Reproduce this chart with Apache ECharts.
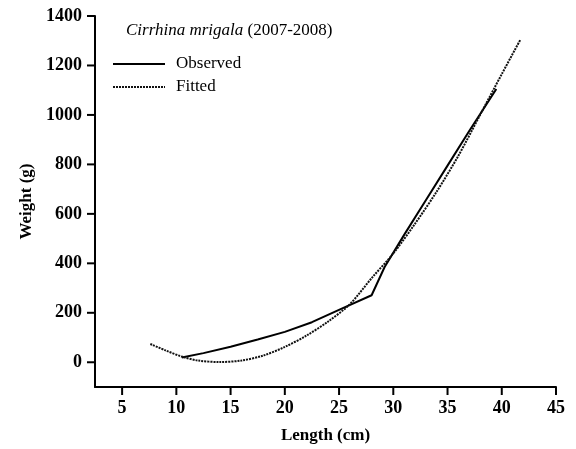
<!DOCTYPE html>
<html>
<head>
<meta charset="utf-8">
<script src="https://cdn.jsdelivr.net/npm/echarts@6/dist/echarts.min.js"></script>
<style>html,body{margin:0;padding:0;background:#fff;}#chart{width:576px;height:449px;}</style>
</head>
<body>
<div id="chart"></div>
<script>
// Data
var observedLength = [10.5, 12.5, 15, 17.5, 20, 22.5, 25.4, 28, 29.2, 31, 33, 35, 37, 39.5];
var observedWeight = [19, 37, 63, 92, 123, 162, 220, 271, 385, 515, 655, 795, 935, 1105];
var fittedLength = [7.6, 9, 10.5, 12, 14, 16, 18, 20, 22, 24, 26, 28, 30, 32, 34, 36, 38, 40, 41.7];
var fittedWeight = [74, 48, 23, 7, 1, 7, 27, 62, 108, 165, 235, 340, 440, 560, 690, 835, 1000, 1165, 1303];
var xTicks = [5, 10, 15, 20, 25, 30, 35, 40, 45];
var yTicks = [0, 200, 400, 600, 800, 1000, 1200, 1400];
var seriesNames = ['Observed', 'Fitted'];

var X_MIN = 2.5, X_MAX = 45, Y_MIN = -100, Y_MAX = 1400;

function pairs(xs, ys) { return xs.map(function (x, i) { return [x, ys[i]]; }); }

var FONT = 'Liberation Serif';
var labelStyle = { fontFamily: FONT, fontSize: 18, fontWeight: 'bold', color: '#000' };

var legendGraphics = [
  { id: 'title', type: 'text', left: 126, top: 22, style: {
      text: '{i|Cirrhina mrigala} (2007-2008)', fontFamily: FONT, fontSize: 17, fill: '#000',
      rich: { i: { fontFamily: FONT, fontSize: 17, fontStyle: 'italic', fill: '#000' } } } },
  { id: 'l1', type: 'line', shape: { x1: 113, y1: 64, x2: 165, y2: 64 }, style: { stroke: '#000', lineWidth: 2 } },
  { id: 't1', type: 'text', left: 176, top: 55, style: { text: seriesNames[0], fontFamily: FONT, fontSize: 17, fill: '#000' } },
  { id: 'l2', type: 'line', shape: { x1: 113, y1: 87, x2: 165, y2: 87 }, style: { stroke: '#111', lineWidth: 2, lineDash: [2, 1] } },
  { id: 't2', type: 'text', left: 176, top: 78, style: { text: seriesNames[1], fontFamily: FONT, fontSize: 17, fill: '#000' } }
];

var chart = echarts.init(document.getElementById('chart'));
chart.setOption({
  animation: false,
  backgroundColor: '#fff',
  grid: { left: 95, right: 20, top: 16, bottom: 60 },
  xAxis: {
    type: 'value', min: X_MIN, max: X_MAX,
    name: 'Length (cm)', nameLocation: 'middle', nameGap: 40,
    nameTextStyle: { fontFamily: FONT, fontSize: 17, fontWeight: 'bold', color: '#000' },
    axisLine: { onZero: false, lineStyle: { color: '#000', width: 2 } },
    axisTick: { show: false },
    axisLabel: Object.assign({ customValues: xTicks, margin: 12, formatter: function (v) { return String(v); } }, labelStyle),
    splitLine: { show: false }
  },
  yAxis: {
    type: 'value', min: Y_MIN, max: Y_MAX,
    name: 'Weight (g)', nameLocation: 'middle', nameGap: 54, nameRotate: 90,
    nameTextStyle: { fontFamily: FONT, fontSize: 17, fontWeight: 'bold', color: '#000' },
    axisLine: { show: true, onZero: false, lineStyle: { color: '#000', width: 2 } },
    axisTick: { show: false },
    axisLabel: Object.assign({ customValues: yTicks, margin: 13, formatter: function (v) { return String(v); } }, labelStyle),
    splitLine: { show: false }
  },
  series: [
    { name: seriesNames[0], type: 'line', showSymbol: false, data: pairs(observedLength, observedWeight),
      lineStyle: { color: '#000', width: 2 } },
    { name: seriesNames[1], type: 'line', showSymbol: false, smooth: 0.3, data: pairs(fittedLength, fittedWeight),
      lineStyle: { color: '#111', width: 2, type: [2, 1] } }
  ],
  graphic: legendGraphics
});

// Tick marks placed through the chart's own scales (drawn as small filled rects)
var tickGraphics = [];
xTicks.forEach(function (v, i) {
  var p = chart.convertToPixel({ xAxisIndex: 0, yAxisIndex: 0 }, [v, Y_MIN]);
  tickGraphics.push({ id: 'xt' + i, type: 'rect', z: 100, x: p[0] - 1, y: p[1],
    shape: { x: 0, y: 0, width: 2, height: 8 }, style: { fill: '#000' } });
});
yTicks.forEach(function (v, i) {
  var p = chart.convertToPixel({ xAxisIndex: 0, yAxisIndex: 0 }, [X_MIN, v]);
  tickGraphics.push({ id: 'yt' + i, type: 'rect', z: 100, x: p[0] - 8, y: p[1] - 1,
    shape: { x: 0, y: 0, width: 8, height: 2 }, style: { fill: '#000' } });
});
chart.setOption({ graphic: tickGraphics });
</script>
</body>
</html>
